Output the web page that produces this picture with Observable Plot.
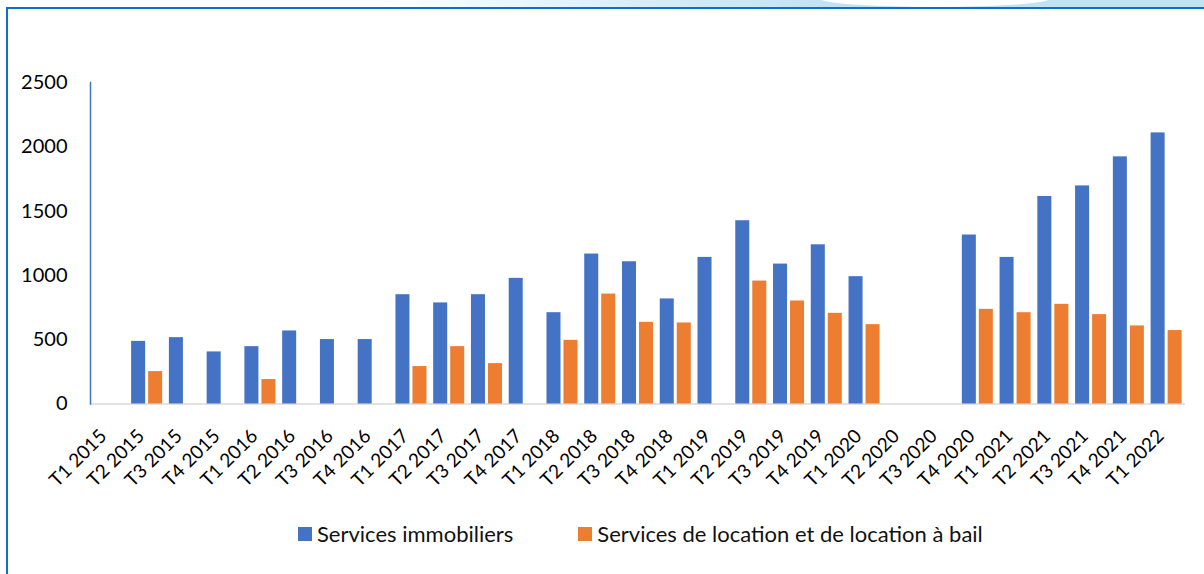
<!DOCTYPE html>
<html>
<head>
<meta charset="utf-8">
<script src="https://cdn.jsdelivr.net/npm/d3@7"></script>
<script src="https://cdn.jsdelivr.net/npm/@observablehq/plot@0.6"></script>
<style>
  html, body { margin: 0; padding: 0; background: #fff; }
  #wrap { position: relative; width: 1204px; height: 574px; overflow: hidden; font-family: Lato, "Open Sans", sans-serif; }
  #deco { position: absolute; left: 0; top: 0; width: 1204px; height: 8px;
    background: linear-gradient(to right, #ffffff 0%, #ffffff 32%, #d6ebf6 55%, #c2e1f1 70%, #c2e1f1 100%); }
  #bump { position: absolute; left: 820px; top: -10px; width: 230px; height: 17px; border-radius: 50%; background: #fff; }
  #frame { position: absolute; left: 6px; top: 7px; width: 1210px; height: 600px;
    border-left: 2px solid #0a72c4; border-top: 2px solid #0a72c4; }
  #chart { position: absolute; left: 0; top: 0; }
  #legend { position: absolute; left: 298px; top: 520px; display: flex; align-items: center; font-size: 22px; color: #111; }
  .item { display: flex; align-items: center; }
  .sw { width: 14px; height: 14px; margin-right: 5px; }
</style>
</head>
<body>
<div id="wrap">
  <div id="deco"></div>
  <div id="bump"></div>
  <div id="frame"></div>
  <div id="chart"></div>
  <div id="legend"></div>
</div>
<script>
const quarters = [
  "T1 2015","T2 2015","T3 2015","T4 2015",
  "T1 2016","T2 2016","T3 2016","T4 2016",
  "T1 2017","T2 2017","T3 2017","T4 2017",
  "T1 2018","T2 2018","T3 2018","T4 2018",
  "T1 2019","T2 2019","T3 2019","T4 2019",
  "T1 2020","T2 2020","T3 2020","T4 2020",
  "T1 2021","T2 2021","T3 2021","T4 2021",
  "T1 2022"
];
const seriesNames = ["Services immobiliers", "Services de location et de location à bail"];
const immobiliers = [null, 487, 516, 405, 446, 568, 501, 501, 850, 786, 850, 977, 710, 1166, 1106, 817, 1140, 1425, 1088, 1238, 990, null, null, 1314, 1140, 1614, 1696, 1922, 2108];
const locationBail = [null, 252, null, null, 190, null, null, null, 291, 446, 314, null, 495, 855, 635, 630, null, 956, 801, 705, 617, null, null, 736, 710, 775, 695, 607, 571];
const yTicks = [0, 500, 1000, 1500, 2000, 2500];
const colors = ["#4472C4", "#ED7D31"];

const rows = [];
quarters.forEach((q, i) => {
  rows.push({quarter: q, series: seriesNames[0], value: immobiliers[i]});
  rows.push({quarter: q, series: seriesNames[1], value: locationBail[i]});
});

const chart = Plot.plot({
  width: 1204,
  height: 490,
  marginLeft: 90,
  marginRight: 19,
  marginTop: 82,
  marginBottom: 86.5,
  style: {fontFamily: "Lato, 'Open Sans', sans-serif", fontSize: "20px", color: "#000", background: "transparent", overflow: "visible"},
  fx: {domain: quarters, padding: 0, round: false, label: null},
  x: {domain: seriesNames, paddingInner: 0.176, paddingOuter: 0.198, round: false, axis: null},
  y: {domain: [0, 2500], label: null},
  color: {domain: seriesNames, range: colors},
  marks: [
    Plot.ruleY([0], {stroke: "#d9d9d9", strokeWidth: 1.5}),
    Plot.frame({anchor: "left", facetAnchor: "left", stroke: "#4472C4", strokeWidth: 1.5}),
    Plot.barY(rows, {fx: "quarter", x: "series", y: "value", fill: "series"}),
    Plot.axisY({ticks: yTicks, tickFormat: d => String(d), tickSize: 0, tickPadding: 23, label: null, fontSize: 20}),
    Plot.axisFx({anchor: "bottom", tickRotate: -45, tickSize: 0, tickPadding: 29, dx: -6, label: null, fontSize: 19})
  ]
});
document.getElementById("chart").appendChild(chart);

const legend = document.getElementById("legend");
seriesNames.forEach((name, i) => {
  const item = document.createElement("div");
  item.className = "item";
  if (i > 0) item.style.marginLeft = "65px";
  const sw = document.createElement("div");
  sw.className = "sw";
  sw.style.background = colors[i];
  const label = document.createElement("span");
  label.textContent = name;
  item.appendChild(sw);
  item.appendChild(label);
  legend.appendChild(item);
});
</script>
</body>
</html>
